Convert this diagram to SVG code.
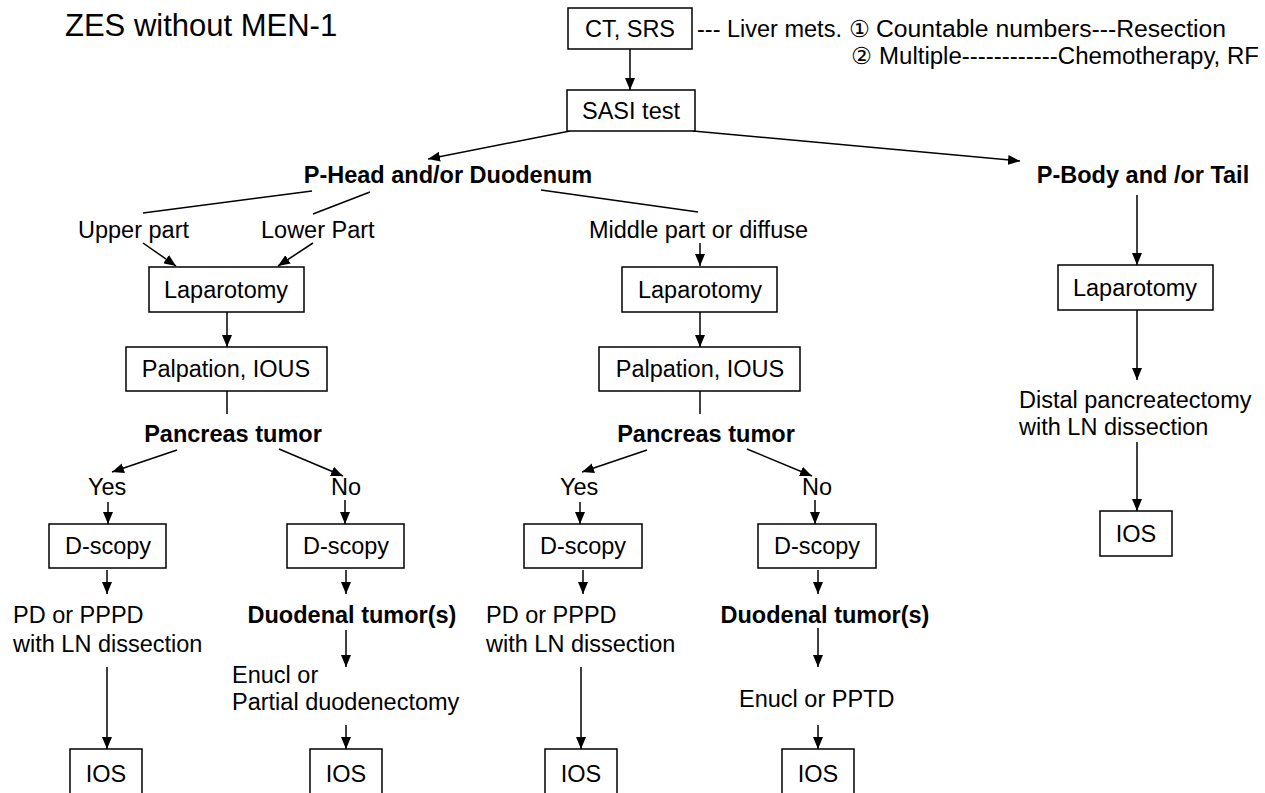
<svg xmlns="http://www.w3.org/2000/svg" width="1265" height="793" viewBox="0 0 1265 793">
<defs>
<marker id="ah" markerUnits="userSpaceOnUse" markerWidth="12" markerHeight="10" refX="12" refY="5" orient="auto">
<path d="M0,0 L12,5 L0,10 z" fill="#000"/>
</marker>
<style>
text{font-family:"Liberation Sans","DejaVu Sans",Arial,sans-serif;font-size:23.5px;fill:#000}
.c{text-anchor:middle}
.b{font-weight:bold}
.box{fill:#fff;stroke:#000;stroke-width:1.5}
.ln{fill:none;stroke:#000;stroke-width:1.5}
.ar{fill:none;stroke:#000;stroke-width:1.5;marker-end:url(#ah)}
</style>
</defs>
<rect width="1265" height="793" fill="#fff"/>
<text id="title" x="65" y="36" style="font-size:31px">ZES without MEN-1</text>
<g id="liver-note">
<text x="697" y="37">--- Liver mets.</text>
<text x="849" y="37">①</text>
<text x="876" y="37" textLength="350" lengthAdjust="spacingAndGlyphs">Countable numbers---Resection</text>
<text x="851" y="64">②</text>
<text x="879" y="64" textLength="380" lengthAdjust="spacingAndGlyphs">Multiple------------Chemotherapy, RF</text>
</g>
<g id="connectors">
<line class="ar" x1="630" y1="49" x2="630" y2="90"/>
<line class="ar" x1="570" y1="131" x2="428" y2="159"/>
<line class="ar" x1="693" y1="131" x2="1020" y2="161"/>
<line class="ln" x1="312" y1="191" x2="143" y2="213"/>
<line class="ln" x1="370" y1="192" x2="313" y2="214"/>
<line class="ln" x1="541" y1="190" x2="698" y2="212"/>
<line class="ar" x1="143" y1="243" x2="176" y2="266"/>
<line class="ar" x1="313" y1="243" x2="278" y2="266"/>
<line class="ar" x1="700" y1="243" x2="700" y2="266"/>
<line class="ar" x1="1137" y1="195" x2="1137" y2="265"/>
<line class="ar" x1="227" y1="312" x2="227" y2="347"/>
<line class="ar" x1="700" y1="312" x2="700" y2="347"/>
<line class="ar" x1="1137" y1="310" x2="1137" y2="380"/>
<line class="ln" x1="227" y1="391" x2="227" y2="414"/>
<line class="ln" x1="700" y1="391" x2="700" y2="414"/>
<line class="ar" x1="177" y1="450" x2="112" y2="472"/>
<line class="ar" x1="279" y1="449" x2="343" y2="476"/>
<line class="ar" x1="647" y1="450" x2="582" y2="472"/>
<line class="ar" x1="747" y1="449" x2="812" y2="476"/>
<line class="ar" x1="108" y1="502" x2="108" y2="524"/>
<line class="ar" x1="345" y1="500" x2="345" y2="524"/>
<line class="ar" x1="580" y1="502" x2="580" y2="524"/>
<line class="ar" x1="815" y1="500" x2="815" y2="524"/>
<line class="ar" x1="107" y1="570" x2="107" y2="594"/>
<line class="ar" x1="346" y1="570" x2="346" y2="594"/>
<line class="ar" x1="583" y1="570" x2="583" y2="594"/>
<line class="ar" x1="818" y1="570" x2="818" y2="594"/>
<line class="ar" x1="346" y1="630" x2="346" y2="667"/>
<line class="ar" x1="818" y1="628" x2="818" y2="667"/>
<line class="ar" x1="107" y1="667" x2="107" y2="749"/>
<line class="ar" x1="581" y1="667" x2="581" y2="749"/>
<line class="ar" x1="346" y1="725" x2="346" y2="749"/>
<line class="ar" x1="818" y1="725" x2="818" y2="749"/>
<line class="ar" x1="1137" y1="442" x2="1137" y2="511"/>
</g>
<g id="n-ct"><rect class="box" x="568" y="8" width="124" height="41"/><text class="c" x="630" y="37">CT, SRS</text></g>
<g id="n-sasi"><rect class="box" x="567" y="90" width="128" height="41"/><text class="c" x="631" y="119">SASI test</text></g>
<g id="n-phead"><text class="c b" x="448" y="183">P-Head and/or Duodenum</text></g>
<g id="n-pbody"><text class="c b" x="1143" y="183">P-Body and /or Tail</text></g>
<g id="n-upper"><text x="78" y="238">Upper part</text></g>
<g id="n-lower"><text x="261" y="238">Lower Part</text></g>
<g id="n-middle"><text x="589" y="238">Middle part or diffuse</text></g>
<g id="n-lap-l"><rect class="box" x="149" y="267" width="155" height="45"/><text class="c" x="226" y="298">Laparotomy</text></g>
<g id="n-lap-m"><rect class="box" x="622" y="267" width="155" height="45"/><text class="c" x="700" y="298">Laparotomy</text></g>
<g id="n-lap-r"><rect class="box" x="1058" y="265" width="155" height="45"/><text class="c" x="1135" y="296">Laparotomy</text></g>
<g id="n-palp-l"><rect class="box" x="126" y="347" width="201" height="44"/><text class="c" x="226" y="377">Palpation, IOUS</text></g>
<g id="n-palp-m"><rect class="box" x="599" y="347" width="201" height="44"/><text class="c" x="700" y="377">Palpation, IOUS</text></g>
<g id="n-distal"><text x="1019" y="408">Distal pancreatectomy</text><text x="1019" y="435">with LN dissection</text></g>
<g id="n-ios-r"><rect class="box" x="1100" y="511" width="72" height="45"/><text class="c" x="1136" y="542">IOS</text></g>
<g id="n-pt-l"><text class="c b" x="233" y="442">Pancreas tumor</text></g>
<g id="n-pt-m"><text class="c b" x="706" y="442">Pancreas tumor</text></g>
<g id="n-yes-l"><text x="88" y="495">Yes</text></g>
<g id="n-no-l"><text x="331" y="495">No</text></g>
<g id="n-yes-m"><text x="560" y="495">Yes</text></g>
<g id="n-no-m"><text x="802" y="495">No</text></g>
<g id="n-ds-1"><rect class="box" x="49" y="524" width="117" height="44"/><text class="c" x="108" y="554">D-scopy</text></g>
<g id="n-ds-2"><rect class="box" x="287" y="524" width="117" height="44"/><text class="c" x="346" y="554">D-scopy</text></g>
<g id="n-ds-3"><rect class="box" x="524" y="524" width="118" height="44"/><text class="c" x="583" y="554">D-scopy</text></g>
<g id="n-ds-4"><rect class="box" x="758" y="524" width="118" height="44"/><text class="c" x="817" y="554">D-scopy</text></g>
<g id="n-pd-l"><text x="13" y="623">PD or PPPD</text><text x="13" y="652">with LN dissection</text></g>
<g id="n-pd-m"><text x="486" y="623">PD or PPPD</text><text x="486" y="652">with LN dissection</text></g>
<g id="n-duo-l"><text class="c b" x="352" y="623">Duodenal tumor(s)</text></g>
<g id="n-duo-m"><text class="c b" x="825" y="623">Duodenal tumor(s)</text></g>
<g id="n-enucl-l"><text x="232" y="683">Enucl or</text><text x="232" y="710">Partial duodenectomy</text></g>
<g id="n-enucl-m"><text x="739" y="707">Enucl or PPTD</text></g>
<g id="n-ios-1"><rect class="box" x="70" y="749" width="72" height="52"/><text class="c" x="106" y="782">IOS</text></g>
<g id="n-ios-2"><rect class="box" x="310" y="749" width="72" height="52"/><text class="c" x="346" y="782">IOS</text></g>
<g id="n-ios-3"><rect class="box" x="545" y="749" width="72" height="52"/><text class="c" x="581" y="782">IOS</text></g>
<g id="n-ios-4"><rect class="box" x="782" y="749" width="72" height="52"/><text class="c" x="818" y="782">IOS</text></g>
</svg>
